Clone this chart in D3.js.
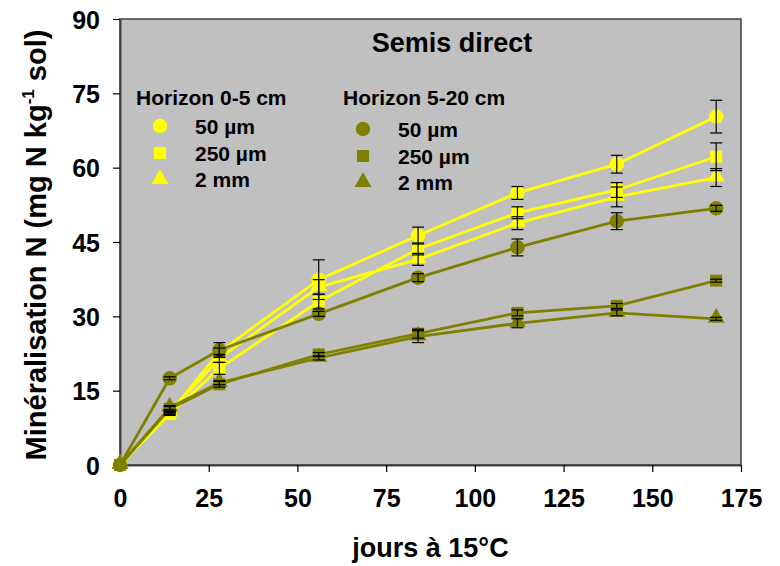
<!DOCTYPE html>
<html>
<meta charset="utf-8">
<style>
  body { margin: 0; background: #fff; }
  text { font-family: Arial, "Liberation Sans", sans-serif; font-weight: bold; }
</style>
<head>
<script src="https://d3js.org/d3.v7.min.js"></script>
</head>
<body>
<script>
// days of incubation
var days = [0, 14, 28, 56, 84, 112, 140, 168];
var xTicks = [0, 25, 50, 75, 100, 125, 150, 175];
var yTicks = [0, 15, 30, 45, 60, 75, 90];

// horizon 0-5 cm
var h05_50um  = [0, 10.5, 22.8, 37.4, 46.3, 54.9, 60.7, 70.3];
var h05_250um = [0, 10.3, 19.5, 33.0, 43.6, 50.9, 55.5, 62.2];
var h05_2mm   = [0, 10.6, 21.5, 35.9, 41.5, 48.8, 54.1, 58.0];
// horizon 5-20 cm
var h520_50um  = [0, 17.5, 23.2, 30.5, 37.8, 43.9, 49.2, 51.8];
var h520_250um = [0, 11.3, 16.3, 22.3, 26.5, 30.7, 32.1, 37.2];
var h520_2mm   = [0, 11.6, 16.6, 21.6, 25.9, 28.6, 30.7, 29.5];
// standard errors
var err05_50um   = [0, 0.3, 0.8, 4.0, 1.7, 1.3, 1.8, 3.3];
var err05_250um  = [0, 0.3, 1.2, 1.5, 1.2, 1.2, 1.5, 2.8];
var err05_2mm    = [0, 0.3, 0.8, 1.5, 1.2, 1.3, 2.0, 1.8];
var err520_50um  = [0, 0.3, 1.5, 0.5, 0.8, 1.7, 1.7, 0.6];
var err520_250um = [0, 0.5, 0.6, 0.4, 0.9, 0.6, 0.5, 0.3];
var err520_2mm   = [0, 0.4, 0.4, 0.4, 1.2, 0.9, 0.6, 0.3];

var width = 780, height = 566;
var margin = {left: 120, top: 19, right: 39, bottom: 101};
var w = width - margin.left - margin.right,
    h = height - margin.top - margin.bottom;

var yellow = "#ffff00", olive = "#808000";

var series = [
  {name: "50 µm",  vals: h05_50um,   err: err05_50um,   color: yellow, shape: "circle"},
  {name: "250 µm", vals: h05_250um,  err: err05_250um,  color: yellow, shape: "square"},
  {name: "2 mm",   vals: h05_2mm,    err: err05_2mm,    color: yellow, shape: "triangle"},
  {name: "50 µm",  vals: h520_50um,  err: err520_50um,  color: olive,  shape: "circle"},
  {name: "250 µm", vals: h520_250um, err: err520_250um, color: olive,  shape: "square"},
  {name: "2 mm",   vals: h520_2mm,   err: err520_2mm,   color: olive,  shape: "triangle"}
];

var svg = d3.select("body").append("svg")
    .attr("width", width)
    .attr("height", height);

var x = d3.scaleLinear().domain([0, 175]).range([0, w]);
var y = d3.scaleLinear().domain([0, 90]).range([h, 0]);

var g = svg.append("g").attr("transform", "translate(" + margin.left + "," + margin.top + ")");

g.append("rect")
    .attr("width", w).attr("height", h)
    .attr("fill", "#c0c0c0")
    .attr("stroke", "#404040")
    .attr("stroke-width", 1.5);

var xAxis = g.append("g")
    .attr("transform", "translate(0," + h + ")")
    .call(d3.axisBottom(x).tickValues(xTicks).tickSize(7).tickPadding(17).tickSizeOuter(0));
var yAxis = g.append("g")
    .call(d3.axisLeft(y).tickValues(yTicks).tickSize(7).tickPadding(13).tickSizeOuter(0));

[xAxis, yAxis].forEach(function(a) {
  a.select(".domain").attr("stroke", "#404040").attr("stroke-width", 2);
  a.selectAll(".tick line").attr("stroke", "#000").attr("stroke-width", 1.2);
  a.selectAll(".tick text")
      .attr("font-size", 25)
      .attr("font-family", "Arial, 'Liberation Sans', sans-serif")
      .attr("font-weight", "bold")
      .attr("fill", "#000");
});
yAxis.selectAll(".tick text").attr("dy", "0.36em");

var line = d3.line()
    .x(function(d, i) { return x(days[i]); })
    .y(function(d) { return y(d); });

var sym = {
  circle: d3.symbol().type(d3.symbolCircle).size(165),
  square: d3.symbol().type(d3.symbolSquare).size(145),
  triangle: d3.symbol().type(d3.symbolTriangle).size(125)
};

series.forEach(function(s) {
  var sg = g.append("g");
  sg.append("path")
      .attr("d", line(s.vals))
      .attr("fill", "none")
      .attr("stroke", s.color)
      .attr("stroke-width", 2.8);
  sg.selectAll(".mk").data(s.vals).enter().append("path")
      .attr("d", sym[s.shape])
      .attr("transform", function(d, i) {
        var dy = s.shape === "triangle" ? -1 : 0;
        return "translate(" + x(days[i]) + "," + (y(d) + dy) + ")";
      })
      .attr("fill", s.color);
});

// error bars on top
series.forEach(function(s) {
  var eg = g.append("g").attr("stroke", "#000").attr("stroke-width", 1.2);
  s.vals.forEach(function(v, i) {
    if (!s.err[i]) return;
    var cx = x(days[i]), y0 = y(v - s.err[i]), y1 = y(v + s.err[i]);
    eg.append("line").attr("x1", cx).attr("x2", cx).attr("y1", y0).attr("y2", y1);
    eg.append("line").attr("x1", cx - 6).attr("x2", cx + 6).attr("y1", y0).attr("y2", y0);
    eg.append("line").attr("x1", cx - 6).attr("x2", cx + 6).attr("y1", y1).attr("y2", y1);
  });
});

// titles and legend
svg.append("text")
    .attr("x", 452).attr("y", 52)
    .attr("text-anchor", "middle")
    .attr("font-size", 27)
    .text("Semis direct");

var legendCols = [
  {title: "Horizon 0-5 cm", x: 136, mx: 160, lx: 195, ys: [126, 153, 179], items: series.slice(0, 3)},
  {title: "Horizon 5-20 cm", x: 343, mx: 363, lx: 398, ys: [129, 156, 182], items: series.slice(3)}
];
legendCols.forEach(function(c) {
  svg.append("text").attr("x", c.x).attr("y", 105).attr("font-size", 21).text(c.title);
  c.items.forEach(function(s, i) {
    svg.append("path")
        .attr("d", sym[s.shape])
        .attr("transform", "translate(" + c.mx + "," + c.ys[i] + ")")
        .attr("fill", s.color);
    svg.append("text").attr("x", c.lx).attr("y", c.ys[i] + 8)
        .attr("font-size", 21).text(s.name);
  });
});

svg.append("text")
    .attr("x", margin.left + w / 2).attr("y", 557)
    .attr("text-anchor", "middle")
    .attr("font-size", 27)
    .text("jours à 15°C");

var yl = svg.append("text")
    .attr("transform", "translate(46,245) rotate(-90)")
    .attr("text-anchor", "middle")
    .attr("font-size", 29);
yl.append("tspan").text("Minéralisation N (mg N kg");
yl.append("tspan").attr("dy", -12).attr("font-size", 17).text("-1");
yl.append("tspan").attr("dy", 12).text(" sol)");
</script>
</body>
</html>
